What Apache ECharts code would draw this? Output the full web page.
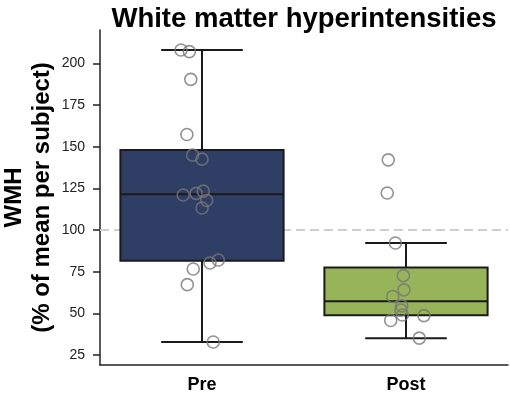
<!DOCTYPE html>
<html>
<head>
<meta charset="utf-8">
<script src="https://cdn.jsdelivr.net/npm/echarts@6/dist/echarts.min.js"></script>
<style>html,body{margin:0;padding:0;background:#fff;}#c{width:510px;height:396px;}</style>
</head>
<body>
<div id="c"></div>
<script>
// ---- data ----
const categories = ['Pre', 'Post'];
const preValues  = [208.0, 207.0, 190.4, 157.3, 144.9, 142.5, 121.0, 122.0, 123.3, 117.8, 113.2, 82.0, 80.2, 76.6, 67.2, 32.8];
const preJitter  = [-0.103, -0.062, -0.055, -0.074, -0.046, 0.000, -0.092, -0.029, 0.006, 0.023, 0.000, 0.080, 0.039, -0.043, -0.072, 0.055];
const postValues = [142.1, 122.2, 92.2, 72.6, 64.1, 60.1, 54.5, 52.0, 49.0, 48.6, 45.7, 35.1];
const postJitter = [-0.087, -0.092, -0.052, -0.013, -0.010, -0.065, -0.021, -0.025, -0.018, 0.088, -0.075, 0.065];
const yTicks = [25, 50, 75, 100, 125, 150, 175, 200];
const refValue = 100;
const boxColors = ['#2e3e64', '#97b45a'];

// ---- box statistics (numpy linear percentiles, 1.5 IQR whiskers) ----
function pct(sorted, p) {
  const pos = (sorted.length - 1) * p;
  const lo = Math.floor(pos), hi = Math.ceil(pos);
  return sorted[lo] + (sorted[hi] - sorted[lo]) * (pos - lo);
}
function stats(vals) {
  const s = vals.slice().sort((a, b) => a - b);
  const q1 = pct(s, 0.25), med = pct(s, 0.5), q3 = pct(s, 0.75);
  const iqr = q3 - q1;
  const lowF = q1 - 1.5 * iqr, highF = q3 + 1.5 * iqr;
  const wLo = Math.min(...s.filter(v => v >= lowF));
  const wHi = Math.max(...s.filter(v => v <= highF));
  return [wLo, q1, med, q3, wHi];
}
const groups = [preValues, postValues];
const jitters = [preJitter, postJitter];
const boxData = groups.map((g, i) => [i].concat(stats(g)));
const pointData = [];
groups.forEach((g, i) => g.forEach((v, k) => pointData.push([i + jitters[i][k], v])));

const chart = echarts.init(document.getElementById('c'), null, {renderer: 'canvas'});
const axisColor = '#222';
const FONT = 'Liberation Sans, Arial, sans-serif';
chart.setOption({
  animation: false,
  backgroundColor: '#fff',
  title: {
    text: 'White matter hyperintensities',
    left: 299, top: 0, textAlign: 'center',
    textStyle: {fontFamily: FONT, fontSize: 27.5, fontWeight: 'bold', color: '#000'}
  },
  grid: {left: 100, right: 2, top: 30, bottom: 31, outerBoundsMode: 'none'},
  xAxis: [{
    type: 'category', data: categories, boundaryGap: true,
    axisLine: {onZero: false, lineStyle: {color: axisColor, width: 1.5}},
    axisTick: {alignWithLabel: true, inside: false, length: 7, lineStyle: {color: axisColor, width: 1.5}},
    axisLabel: {margin: 11, color: '#000', fontSize: 18, fontWeight: 'bold', fontFamily: FONT},
    splitLine: {show: false}
  }, {
    type: 'value', min: -0.5, max: 1.5, show: false
  }],
  yAxis: {
    type: 'value', min: 19, max: 220,
    name: 'WMH\n(% of mean per subject)', nameLocation: 'middle', nameGap: 44, nameMoveOverlap: false,
    nameTextStyle: {fontFamily: FONT, fontSize: 24, fontWeight: 'bold', color: '#000', lineHeight: 28},
    axisLine: {show: true, onZero: false, lineStyle: {color: axisColor, width: 1.5}},
    axisTick: {show: true, inside: false, length: 7, customValues: yTicks, lineStyle: {color: axisColor, width: 1.5}},
    axisLabel: {customValues: yTicks, margin: 15, color: '#222', fontSize: 14, fontFamily: FONT},
    splitLine: {show: false}
  },
  series: [{
    type: 'custom', z: 1,
    data: [[0, refValue]],
    renderItem: function (params, api) {
      const p = api.coord([0, api.value(1)]);
      const cs = params.coordSys;
      return {
        type: 'line',
        shape: {x1: cs.x, y1: p[1], x2: cs.x + cs.width, y2: p[1]},
        style: {stroke: '#cfcfcf', lineWidth: 2, lineDash: [9, 5]}
      };
    }
  }, {
    type: 'custom', z: 2,
    data: boxData,
    renderItem: function (params, api) {
      const i = api.value(0);
      const band = api.size([1, 0])[0];
      const bw = band * 0.8, cw = band * 0.4;
      const pMin = api.coord([i, api.value(1)]);
      const pQ1 = api.coord([i, api.value(2)]);
      const pMed = api.coord([i, api.value(3)]);
      const pQ3 = api.coord([i, api.value(4)]);
      const pMax = api.coord([i, api.value(5)]);
      const cx = pMed[0];
      const ls = {stroke: '#1a1a1a', lineWidth: 2};
      return {
        type: 'group',
        children: [
          {type: 'line', shape: {x1: cx, y1: pQ3[1], x2: cx, y2: pMax[1]}, style: ls},
          {type: 'line', shape: {x1: cx, y1: pQ1[1], x2: cx, y2: pMin[1]}, style: ls},
          {type: 'line', shape: {x1: cx - cw / 2, y1: pMax[1], x2: cx + cw / 2, y2: pMax[1]}, style: ls},
          {type: 'line', shape: {x1: cx - cw / 2, y1: pMin[1], x2: cx + cw / 2, y2: pMin[1]}, style: ls},
          {type: 'rect', shape: {x: cx - bw / 2, y: pQ3[1], width: bw, height: pQ1[1] - pQ3[1]},
           style: {fill: boxColors[i], stroke: '#1a1a1a', lineWidth: 2}},
          {type: 'line', shape: {x1: cx - bw / 2, y1: pMed[1], x2: cx + bw / 2, y2: pMed[1]}, style: ls}
        ]
      };
    }
  }, {
    type: 'scatter', xAxisIndex: 1, z: 5,
    data: pointData,
    symbol: 'circle', symbolSize: 12,
    itemStyle: {color: 'rgba(0,0,0,0)', borderColor: '#777', borderWidth: 1.6}
  }]
});
</script>
</body>
</html>
